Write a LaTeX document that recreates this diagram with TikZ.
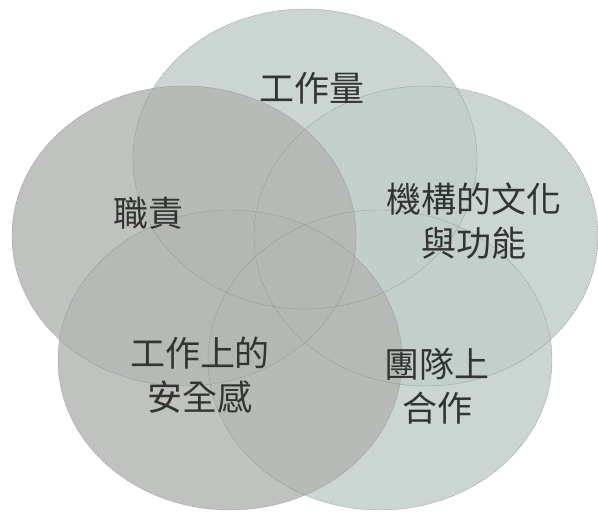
\documentclass[tikz,border=0pt]{standalone}
\usepackage{fontspec}
\setmainfont{Noto Sans CJK TC}
\begin{document}
\begin{tikzpicture}[x=1pt,y=-1pt,
  sage/.style={fill={rgb,255:red,194;green,206;blue,201},fill opacity=0.85},
  greyish/.style={fill={rgb,255:red,180;green,183;blue,179},fill opacity=0.85},
  rim/.style={draw={rgb,255:red,135;green,140;blue,137},line width=0.35pt,dash pattern=on 1.5pt off 0.8pt},
  lbl/.style={text={rgb,255:red,50;green,52;blue,50},font=\fontsize{35}{44}\selectfont,align=center,inner sep=0pt}]
\useasboundingbox (0,0) rectangle (598,512);
\coordinate (cT) at (305,159);
\coordinate (cL) at (184,236);
\coordinate (cR) at (426,236);
\coordinate (cBL) at (230,360);
\coordinate (cBR) at (380,360);
% fills
\fill[sage] (cT) ellipse [x radius=172, y radius=150];
\fill[sage] (cR) ellipse [x radius=172, y radius=150];
\fill[sage] (cBR) ellipse [x radius=172, y radius=150];
\fill[greyish] (cL) ellipse [x radius=172, y radius=150];
\fill[greyish] (cBL) ellipse [x radius=172, y radius=150];
% outlines
\foreach \c in {cT,cR,cBR,cL,cBL}
  \draw[rim] (\c) ellipse [x radius=172, y radius=150];
% labels
\node[lbl] (workload) at (312,88) {工作量};
\node[lbl] (duty) at (148,213) {職責};
\node[lbl] (culture) at (474,221) {機構的文化\\與功能};
\node[lbl] (safety) at (200,375) {工作上的\\安全感};
\node[lbl] (team) at (437,386) {團隊上\\合作};
\end{tikzpicture}
\end{document}
